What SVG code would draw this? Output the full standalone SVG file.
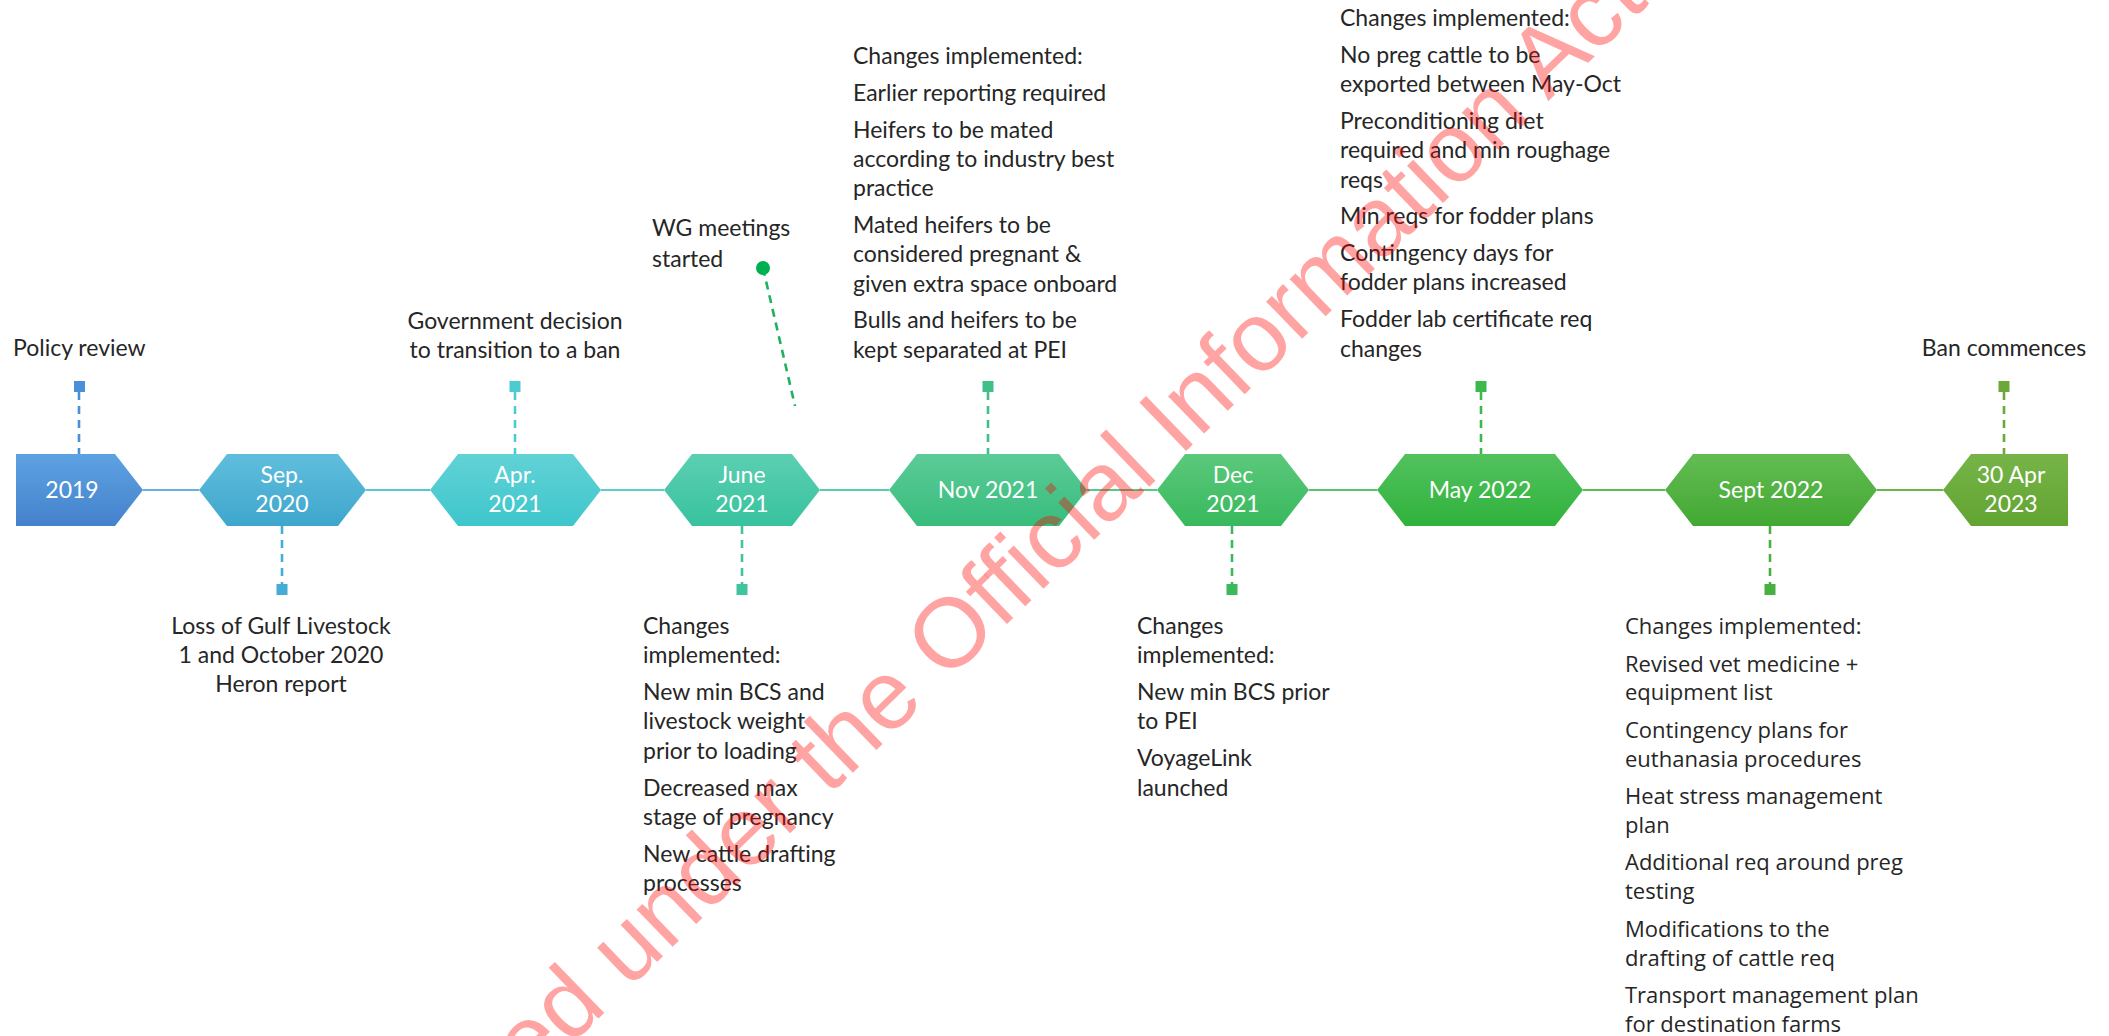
<svg xmlns="http://www.w3.org/2000/svg" width="2109" height="1036" viewBox="0 0 2109 1036">
<style>
.t{font-family:Lato,"Liberation Sans",sans-serif;font-size:23px;fill:#262626}
.s{font-family:"Open Sans","Noto Sans",sans-serif;font-size:22px;fill:#262626}
.d{font-family:Lato,"Liberation Sans",sans-serif;font-size:23px;fill:#ffffff;text-anchor:middle}
.m{text-anchor:middle}
.dash{stroke-width:2.6;stroke-dasharray:8 6;fill:none}
.ln{stroke-width:2.2;fill:none}
.wm{font-family:"Liberation Sans",Arial,sans-serif;font-size:98px;fill:#ff0000;fill-opacity:0.36}
</style>
<defs>
<linearGradient id="g1" x1="0" y1="0" x2="0" y2="1"><stop offset="0" stop-color="#5ea2e2"/><stop offset="1" stop-color="#4482cc"/></linearGradient>
<linearGradient id="g2" x1="0" y1="0" x2="0" y2="1"><stop offset="0" stop-color="#60bedd"/><stop offset="1" stop-color="#3ea6cc"/></linearGradient>
<linearGradient id="g3" x1="0" y1="0" x2="0" y2="1"><stop offset="0" stop-color="#62d2d6"/><stop offset="1" stop-color="#3ec6cc"/></linearGradient>
<linearGradient id="g4" x1="0" y1="0" x2="0" y2="1"><stop offset="0" stop-color="#5ccfb2"/><stop offset="1" stop-color="#38c29e"/></linearGradient>
<linearGradient id="g5" x1="0" y1="0" x2="0" y2="1"><stop offset="0" stop-color="#5ccb98"/><stop offset="1" stop-color="#37bd7c"/></linearGradient>
<linearGradient id="g6" x1="0" y1="0" x2="0" y2="1"><stop offset="0" stop-color="#5cc87c"/><stop offset="1" stop-color="#38b95c"/></linearGradient>
<linearGradient id="g7" x1="0" y1="0" x2="0" y2="1"><stop offset="0" stop-color="#52c25e"/><stop offset="1" stop-color="#30b23c"/></linearGradient>
<linearGradient id="g8" x1="0" y1="0" x2="0" y2="1"><stop offset="0" stop-color="#62bc52"/><stop offset="1" stop-color="#43a833"/></linearGradient>
<linearGradient id="g9" x1="0" y1="0" x2="0" y2="1"><stop offset="0" stop-color="#76b448"/><stop offset="1" stop-color="#62a432"/></linearGradient>
</defs>
<rect width="2109" height="1036" fill="#ffffff"/>

<g id="connectors">
<line class="ln" x1="143" y1="490" x2="199" y2="490" stroke="#6aaee0"/>
<line class="ln" x1="366" y1="490" x2="430" y2="490" stroke="#5cc3d8"/>
<line class="ln" x1="601" y1="490" x2="664" y2="490" stroke="#5ad0cc"/>
<line class="ln" x1="820" y1="490" x2="889" y2="490" stroke="#5accaa"/>
<line class="ln" x1="1087" y1="490" x2="1157" y2="490" stroke="#5cc788"/>
<line class="ln" x1="1309" y1="490" x2="1377" y2="490" stroke="#5cc26a"/>
<line class="ln" x1="1583" y1="490" x2="1665" y2="490" stroke="#5cbc52"/>
<line class="ln" x1="1877" y1="490" x2="1943" y2="490" stroke="#6cb648"/>

<line class="dash" x1="79" y1="392" x2="79" y2="454" stroke="#4a90d9"/>
<rect x="74" y="381" width="11" height="11" fill="#4a90d9"/>
<line class="dash" x1="282" y1="526" x2="282" y2="584" stroke="#45acd5"/>
<rect x="276.5" y="584" width="11" height="11" fill="#45acd5"/>
<line class="dash" x1="515" y1="392" x2="515" y2="454" stroke="#4ccbd0"/>
<rect x="509.5" y="381" width="11" height="11" fill="#4ccbd0"/>
<line class="dash" x1="742" y1="526" x2="742" y2="584" stroke="#40c4a0"/>
<rect x="736.5" y="584" width="11" height="11" fill="#40c4a0"/>
<line class="dash" x1="763" y1="268" x2="795" y2="406" stroke="#1fb060"/>
<circle cx="763" cy="268" r="7" fill="#00b050"/>
<line class="dash" x1="988" y1="392" x2="988" y2="454" stroke="#40c088"/>
<rect x="982.5" y="381" width="11" height="11" fill="#40c088"/>
<line class="dash" x1="1232" y1="526" x2="1232" y2="584" stroke="#3cb95a"/>
<rect x="1226.5" y="584" width="11" height="11" fill="#3cb95a"/>
<line class="dash" x1="1481" y1="392" x2="1481" y2="454" stroke="#3cb94a"/>
<rect x="1475.5" y="381" width="11" height="11" fill="#3cb94a"/>
<line class="dash" x1="1770" y1="526" x2="1770" y2="584" stroke="#48b040"/>
<rect x="1764.5" y="584" width="11" height="11" fill="#48b040"/>
<line class="dash" x1="2004" y1="392" x2="2004" y2="454" stroke="#6aa83a"/>
<rect x="1998.5" y="381" width="11" height="11" fill="#6aa83a"/>
</g>

<g id="n2019">
<polygon points="16,454 115,454 143,490 115,526 16,526" fill="url(#g1)"/>
<text class="d" x="72" y="498">2019</text>
<text class="t" x="13" y="356">Policy review</text>
</g>

<g id="nSep2020">
<polygon points="199,490 227,454 338,454 366,490 338,526 227,526" fill="url(#g2)"/>
<text class="d"><tspan x="282" y="483">Sep.</tspan><tspan x="282" y="512">2020</tspan></text>
<text class="t m"><tspan x="281" y="634">Loss of Gulf Livestock</tspan><tspan x="281" y="663">1 and October 2020</tspan><tspan x="281" y="692">Heron report</tspan></text>
</g>

<g id="nApr2021">
<polygon points="430,490 458,454 573,454 601,490 573,526 458,526" fill="url(#g3)"/>
<text class="d"><tspan x="515" y="483">Apr.</tspan><tspan x="515" y="512">2021</tspan></text>
<text class="t m"><tspan x="515" y="329">Government decision</tspan><tspan x="515" y="358">to transition to a ban</tspan></text>
</g>

<g id="nJune2021">
<polygon points="664,490 692,454 792,454 820,490 792,526 692,526" fill="url(#g4)"/>
<text class="d"><tspan x="742" y="483">June</tspan><tspan x="742" y="512">2021</tspan></text>
<text class="t"><tspan x="643" y="634">Changes</tspan><tspan x="643" y="663.3">implemented:</tspan><tspan x="643" y="700.1">New min BCS and</tspan><tspan x="643" y="729.4">livestock weight</tspan><tspan x="643" y="758.7">prior to loading</tspan><tspan x="643" y="795.5">Decreased max</tspan><tspan x="643" y="824.8">stage of pregnancy</tspan><tspan x="643" y="861.6">New cattle drafting</tspan><tspan x="643" y="890.9">processes</tspan></text>
</g>

<g id="nWG">
<text class="t"><tspan x="652" y="236">WG meetings</tspan><tspan x="652" y="267">started</tspan></text>
</g>

<g id="nNov2021">
<polygon points="889,490 917,454 1059,454 1087,490 1059,526 917,526" fill="url(#g5)"/>
<text class="d" x="988" y="498">Nov 2021</text>
<text class="t"><tspan x="853" y="64">Changes implemented:</tspan><tspan x="853" y="100.8">Earlier reporting required</tspan><tspan x="853" y="137.6">Heifers to be mated</tspan><tspan x="853" y="166.9">according to industry best</tspan><tspan x="853" y="196.2">practice</tspan><tspan x="853" y="233">Mated heifers to be</tspan><tspan x="853" y="262.3">considered pregnant &amp;</tspan><tspan x="853" y="291.6">given extra space onboard</tspan><tspan x="853" y="328.4">Bulls and heifers to be</tspan><tspan x="853" y="357.7">kept separated at PEI</tspan></text>
</g>

<g id="nDec2021">
<polygon points="1157,490 1185,454 1281,454 1309,490 1281,526 1185,526" fill="url(#g6)"/>
<text class="d"><tspan x="1233" y="483">Dec</tspan><tspan x="1233" y="512">2021</tspan></text>
<text class="t"><tspan x="1137" y="634">Changes</tspan><tspan x="1137" y="663.3">implemented:</tspan><tspan x="1137" y="700.1">New min BCS prior</tspan><tspan x="1137" y="729.4">to PEI</tspan><tspan x="1137" y="766.2">VoyageLink</tspan><tspan x="1137" y="795.5">launched</tspan></text>
</g>

<g id="nMay2022">
<polygon points="1377,490 1405,454 1555,454 1583,490 1555,526 1405,526" fill="url(#g7)"/>
<text class="d" x="1480" y="498">May 2022</text>
<text class="t"><tspan x="1340" y="26">Changes implemented:</tspan><tspan x="1340" y="62.8">No preg cattle to be</tspan><tspan x="1340" y="92.1">exported between May-Oct</tspan><tspan x="1340" y="128.9">Preconditioning diet</tspan><tspan x="1340" y="158.2">required and min roughage</tspan><tspan x="1340" y="187.5">reqs</tspan><tspan x="1340" y="224.3">Min reqs for fodder plans</tspan><tspan x="1340" y="261.1">Contingency days for</tspan><tspan x="1340" y="290.4">fodder plans increased</tspan><tspan x="1340" y="327.2">Fodder lab certificate req</tspan><tspan x="1340" y="356.5">changes</tspan></text>
</g>

<g id="nSept2022">
<polygon points="1665,490 1693,454 1849,454 1877,490 1849,526 1693,526" fill="url(#g8)"/>
<text class="d" x="1771" y="498">Sept 2022</text>
<text class="s"><tspan x="1625" y="634">Changes implemented:</tspan><tspan x="1625" y="671.5">Revised vet medicine +</tspan><tspan x="1625" y="700.3">equipment list</tspan><tspan x="1625" y="737.8">Contingency plans for</tspan><tspan x="1625" y="766.6">euthanasia procedures</tspan><tspan x="1625" y="804.1">Heat stress management</tspan><tspan x="1625" y="832.9">plan</tspan><tspan x="1625" y="870.4">Additional req around preg</tspan><tspan x="1625" y="899.2">testing</tspan><tspan x="1625" y="936.7">Modifications to the</tspan><tspan x="1625" y="965.5">drafting of cattle req</tspan><tspan x="1625" y="1003">Transport management plan</tspan><tspan x="1625" y="1031.8">for destination farms</tspan></text>
</g>

<g id="nApr2023">
<polygon points="1943,490 1971,454 2068,454 2068,526 1971,526" fill="url(#g9)"/>
<text class="d"><tspan x="2011" y="483">30 Apr</tspan><tspan x="2011" y="512">2023</tspan></text>
<text class="t m" x="2004" y="356">Ban commences</text>
</g>

<text class="wm" x="311" y="1296" transform="rotate(-44 311 1296)">Released under the Official Information Act</text>
</svg>
